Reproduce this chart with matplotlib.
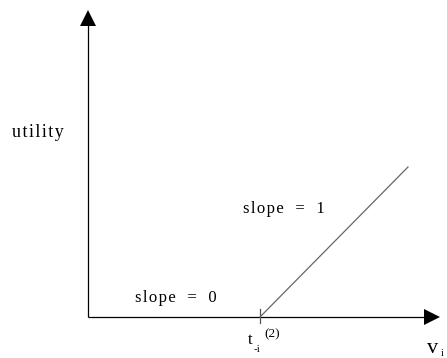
import matplotlib
matplotlib.use("Agg")
import matplotlib.pyplot as plt

plt.rcParams['font.family'] = ['Liberation Serif', 'DejaVu Serif']

# piecewise utility: zero below the threshold, slope one above it
threshold = 172
v_values = [172, 320]
utility_values = [0, 150]

x_axis_len = 352
y_axis_len = 307

axis_label_y = 'utility'
label_flat = ('slope', '0')
label_rising = ('slope', '1')


def spaced(s, gap='\u200a'):
    return gap.join(s)


fig = plt.figure(figsize=(4.47, 3.58), dpi=100)
ax = fig.add_axes([0, 0, 1, 1])
ax.set_xlim(-88, 359)
ax.set_ylim(-41, 317)
ax.axis('off')

# axes with arrow heads
ax.plot([0, x_axis_len - 14], [0, 0], color='black', lw=0.9, solid_capstyle='butt')
ax.plot([0, 0], [0, y_axis_len - 14], color='black', lw=0.9, solid_capstyle='butt')
ax.plot([x_axis_len - 8.5], [0], marker='>', ms=12.2, color='black', mew=0)
ax.plot([0], [y_axis_len - 8], marker='^', ms=12.2, color='black', mew=0)

# tick at threshold
ax.plot([threshold, threshold], [-6, 8], color='#555555', lw=0.9)

# rising part
ax.plot(v_values, utility_values, color='#666666', lw=0.9)

fs = 12
ax.text(-76, 180, spaced(axis_label_y), fontsize=13, va='baseline', ha='left')
ax.text(155, 104, spaced(label_rising[0]) + '\u2009  =  \u2009' + label_rising[1],
        fontsize=fs, va='baseline', ha='left')
ax.text(47, 15, spaced(label_flat[0]) + '\u2009  =  \u2009' + label_flat[1],
        fontsize=fs, va='baseline', ha='left')

ax.text(160, -27, 't', fontsize=fs, va='baseline', ha='left')
ax.text(166, -35, '-i', fontsize=8, va='baseline', ha='left')
ax.text(176, -20, '(2)', fontsize=9.5, va='baseline', ha='left')

ax.text(339, -36, 'v', fontsize=16, va='baseline', ha='left')
ax.text(353, -39.5, 'i', fontsize=7, va='baseline', ha='left')

fig.savefig('out.png', dpi=100)
